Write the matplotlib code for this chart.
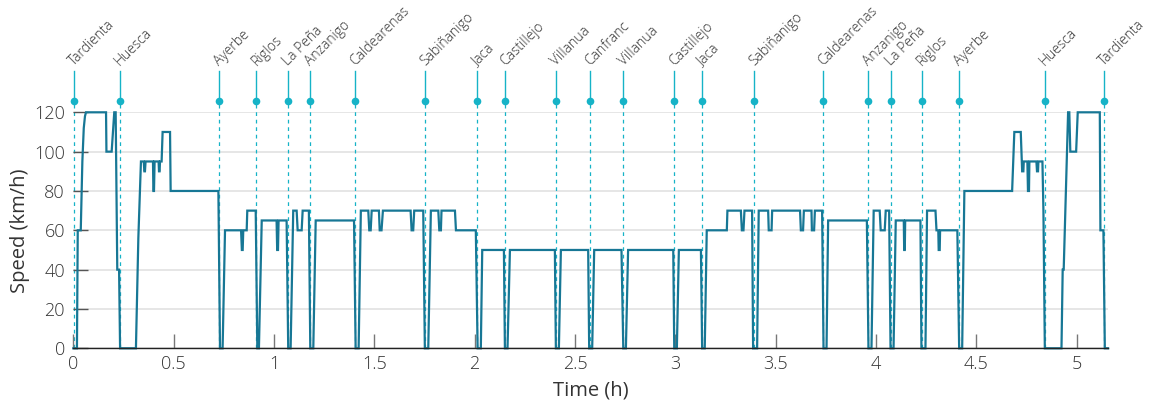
import matplotlib
matplotlib.use("Agg")
import matplotlib.pyplot as plt
import matplotlib.transforms as mtransforms

plt.rcParams['font.family'] = ['Open Sans', 'DejaVu Sans']
plt.rcParams['font.weight'] = 'light'

# Speed profile of the round trip Tardienta - Canfranc - Tardienta
time_h = [
    0.000, 0.018, 0.022, 0.037, 0.045, 0.052, 0.058, 0.063, 0.163, 0.165, 0.191, 0.204,
    0.211, 0.219, 0.228, 0.233, 0.312, 0.324, 0.337, 0.351, 0.354, 0.357, 0.360, 0.397,
    0.399, 0.402, 0.405, 0.425, 0.427, 0.430, 0.432, 0.440, 0.445, 0.482, 0.485, 0.723,
    0.731, 0.744, 0.756, 0.836, 0.840, 0.844, 0.847, 0.864, 0.867, 0.909, 0.917, 0.925,
    0.939, 1.013, 1.016, 1.020, 1.023, 1.063, 1.071, 1.083, 1.096, 1.113, 1.118, 1.138,
    1.143, 1.174, 1.181, 1.196, 1.208, 1.399, 1.407, 1.422, 1.433, 1.470, 1.475, 1.482,
    1.487, 1.523, 1.527, 1.536, 1.543, 1.681, 1.686, 1.694, 1.699, 1.744, 1.752, 1.769,
    1.782, 1.819, 1.824, 1.832, 1.835, 1.902, 1.907, 2.006, 2.015, 2.031, 2.038, 2.146,
    2.151, 2.164, 2.176, 2.400, 2.405, 2.420, 2.430, 2.566, 2.571, 2.586, 2.596, 2.732,
    2.741, 2.754, 2.765, 2.990, 2.995, 3.008, 3.018, 3.128, 3.134, 3.147, 3.157, 3.257,
    3.260, 3.327, 3.332, 3.340, 3.345, 3.383, 3.388, 3.408, 3.416, 3.463, 3.466, 3.480,
    3.483, 3.622, 3.626, 3.637, 3.641, 3.679, 3.681, 3.692, 3.696, 3.732, 3.739, 3.754,
    3.762, 3.955, 3.963, 3.978, 3.989, 4.019, 4.024, 4.044, 4.049, 4.066, 4.073, 4.088,
    4.099, 4.139, 4.141, 4.144, 4.146, 4.222, 4.227, 4.247, 4.255, 4.297, 4.302, 4.311,
    4.313, 4.318, 4.320, 4.406, 4.415, 4.430, 4.441, 4.679, 4.690, 4.722, 4.727, 4.729,
    4.735, 4.737, 4.755, 4.758, 4.763, 4.765, 4.800, 4.803, 4.808, 4.810, 4.830, 4.835,
    4.842, 4.925, 4.931, 4.936, 4.958, 4.964, 4.969, 4.998, 5.006, 5.116, 5.119, 5.134,
    5.141, 5.157,
]
speed_kmh = [
    0, 0, 60, 60, 95, 112, 118, 120, 120, 100, 100, 120,
    120, 40, 40, 0, 0, 56, 95, 95, 90, 90, 95, 95,
    80, 80, 95, 95, 90, 90, 95, 95, 110, 110, 80, 80,
    0, 0, 60, 60, 50, 50, 60, 60, 70, 70, 0, 0,
    65, 65, 50, 50, 65, 65, 0, 0, 70, 70, 60, 60,
    70, 70, 0, 0, 65, 65, 0, 0, 70, 70, 60, 60,
    70, 70, 60, 60, 70, 70, 60, 60, 70, 70, 0, 0,
    70, 70, 60, 60, 70, 70, 60, 60, 0, 0, 50, 50,
    0, 0, 50, 50, 0, 0, 50, 50, 0, 0, 50, 50,
    0, 0, 50, 50, 0, 0, 50, 50, 0, 0, 60, 60,
    70, 70, 60, 60, 70, 70, 0, 0, 70, 70, 60, 60,
    70, 70, 60, 60, 70, 70, 60, 60, 70, 70, 0, 0,
    65, 65, 0, 0, 70, 70, 60, 60, 70, 70, 0, 0,
    65, 65, 50, 50, 65, 65, 0, 0, 70, 70, 60, 60,
    50, 50, 60, 60, 0, 0, 80, 80, 110, 110, 95, 90,
    90, 95, 95, 80, 80, 95, 95, 90, 90, 95, 95, 70,
    0, 0, 40, 40, 120, 120, 100, 100, 120, 120, 60, 60,
    0, 0,
]

# Stations passed along the route
station_names = [
    "Tardienta", "Huesca", "Ayerbe", "Riglos", "La Peña", "Anzanigo", "Caldearenas",
    "Sabiñanigo", "Jaca", "Castillejo", "Villanua", "Canfranc", "Villanua", "Castillejo",
    "Jaca", "Sabiñanigo", "Caldearenas", "Anzanigo", "La Peña", "Riglos", "Ayerbe",
    "Huesca", "Tardienta",
]
station_times = [
    0.002, 0.231, 0.727, 0.912, 1.070, 1.181, 1.405, 1.752, 2.013, 2.151, 2.405, 2.573,
    2.742, 2.995, 3.133, 3.392, 3.737, 3.963, 4.073, 4.230, 4.413, 4.842, 5.137,
]

y_ticks = [0, 20, 40, 60, 80, 100, 120]
x_ticks = [0, 0.5, 1, 1.5, 2, 2.5, 3, 3.5, 4, 4.5, 5]
x_tick_labels = ["0", "0.5", "1", "1.5", "2", "2.5", "3", "3.5", "4", "4.5", "5"]

LINE_COLOR = "#177795"
STATION_COLOR = "#16b3c7"
TEXT_COLOR = "#333333"

fig = plt.figure(figsize=(11.53, 4.05), dpi=100)
ax = fig.add_axes([0.0636, 0.14, 0.8974, 0.5827])

ax.set_xlim(0, 5.157)
ax.set_ylim(0, 120)

# horizontal grid
for y in y_ticks:
    ax.axhline(y, color="#e4e4e4", lw=1.3, zorder=0)

dot_y = 125.6
stem_top = 141.0
for t in station_times:
    ax.plot([t, t], [0, dot_y], color=STATION_COLOR, lw=0.9, ls=(0, (3, 3)),
            clip_on=False, zorder=1)
    ax.plot([t, t], [dot_y, stem_top], color=STATION_COLOR, lw=1.0,
            clip_on=False, zorder=1)
    ax.plot([t], [dot_y], "o", color=STATION_COLOR, ms=5.5, mec="none",
            clip_on=False, zorder=3)

offset = mtransforms.ScaledTranslation(3 / 100, 2 / 100, fig.dpi_scale_trans)
for name, t in zip(station_names, station_times):
    ax.text(t, stem_top, name, rotation=45, rotation_mode="anchor",
            ha="left", va="bottom", fontsize=10, color=TEXT_COLOR,
            transform=ax.transData + offset, clip_on=False)

ax.plot(time_h, speed_kmh, color=LINE_COLOR, lw=1.6, clip_on=False, zorder=2,
        solid_joinstyle="miter")

for side in ("left", "right", "top"):
    ax.spines[side].set_visible(False)
ax.spines["bottom"].set_color("#222222")
ax.spines["bottom"].set_linewidth(1.0)

ax.set_yticks(y_ticks)
ax.set_xticks(x_ticks)
ax.set_xticklabels(x_tick_labels)
ax.tick_params(axis="x", direction="in", length=10, width=1.0, color="#777777",
               labelsize=13, labelcolor=TEXT_COLOR, pad=5)
ax.tick_params(axis="y", direction="in", length=11, width=1.0, color="#555555",
               labelsize=13, labelcolor=TEXT_COLOR, pad=6)

ax.set_xlabel("Time (h)", fontsize=14.5, color=TEXT_COLOR, labelpad=5)
ax.set_ylabel("Speed (km/h)", fontsize=14.5, color=TEXT_COLOR, labelpad=3)

fig.savefig("out.png", dpi=100)
